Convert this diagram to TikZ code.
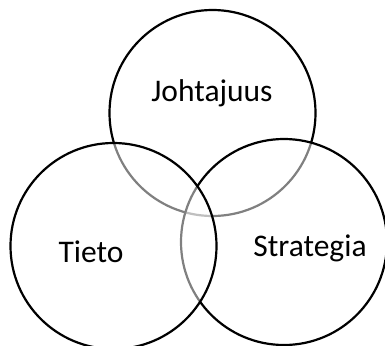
\documentclass[tikz,border=0pt]{standalone}
\usepackage{fontspec}
\setmainfont{Carlito}
\begin{document}
\begin{tikzpicture}[x=1pt,y=-1pt,
  venn/.style={circle, draw=black, line width=2.2pt, fill=white, fill opacity=0.5,
    draw opacity=1, minimum size=206pt, inner sep=0pt, outer sep=0pt},
  lbl/.style={font=\fontsize{31.5}{38}\selectfont, text=black, anchor=base, inner sep=0pt}]
  \useasboundingbox (0,0) rectangle (385,345);
  \clip (0,0) rectangle (385,345);
  % circles, drawn top, right, left so later fills soften earlier outlines
  \node[venn] (johto) at (212.5,113) {};
  \node[venn] (strat) at (284,242) {};
  \node[venn] (tieto) at (113.5,246) {};
  % labels
  \node[lbl] (ljohto) at (212,101.5) {Johtajuus};
  \node[lbl] (ltieto) at (91,262) {Tieto};
  \node[lbl] (lstrat) at (310,256.5) {Strategia};
\end{tikzpicture}
\end{document}
